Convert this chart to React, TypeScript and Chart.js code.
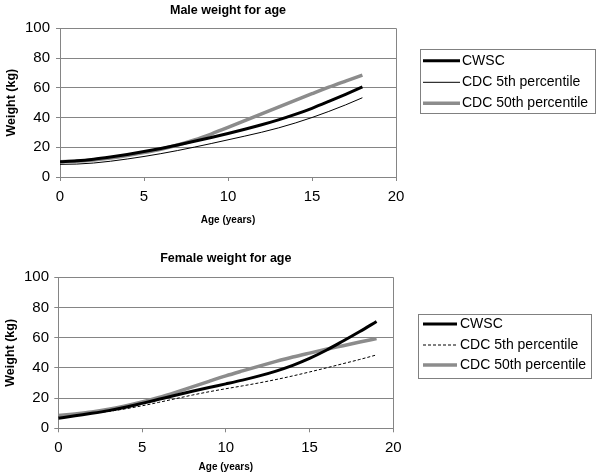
import React, { useEffect, useRef } from "react";
import { Chart, registerables } from "chart.js";

Chart.register(...registerables);

// ---------- data ----------
const maleAges = [0, 1, 2, 3, 4, 5, 6, 7, 8, 9, 10, 11, 12, 13, 14, 15, 16, 17, 18];
const maleCWSC = [10.3, 10.9, 12.0, 13.5, 15.2, 17.1, 19.2, 21.5, 24.0, 26.6, 29.3, 32.1, 35.1, 38.4, 42.1, 46.2, 50.8, 55.6, 60.6];
const maleCDC5 = [8.5, 8.7, 9.4, 10.6, 12.1, 13.8, 15.7, 17.8, 20.1, 22.5, 25.0, 27.5, 30.1, 33.0, 36.3, 40.0, 44.1, 48.5, 53.3];
const maleCDC50 = [10.3, 10.6, 11.4, 12.7, 14.4, 16.4, 18.7, 21.5, 24.9, 28.9, 33.3, 37.9, 42.5, 47.0, 51.5, 56.0, 60.4, 64.5, 68.5];

const femaleAges = [0, 1, 2, 3, 4, 5, 6, 7, 8, 9, 10, 11, 12, 13, 14, 15, 16, 17, 18, 19];
const femaleCWSC = [6.6, 8.3, 9.9, 11.7, 13.9, 16.5, 19.2, 21.9, 24.5, 27.0, 29.4, 31.9, 34.7, 37.9, 41.7, 46.3, 51.7, 57.8, 64.1, 70.7];
const femaleCDC5 = [7.7, 8.8, 9.9, 11.2, 12.9, 14.9, 17.2, 19.6, 22.0, 24.2, 26.2, 28.1, 30.1, 32.3, 34.7, 37.3, 40.0, 42.8, 45.6, 48.6];
const femaleCDC50 = [8.4, 9.5, 10.8, 12.6, 14.8, 17.4, 20.4, 23.8, 27.4, 31.1, 34.7, 38.0, 41.2, 44.3, 47.2, 49.8, 52.3, 54.7, 57.1, 59.4];

const seriesLabels = ["CWSC", "CDC 5th percentile", "CDC 50th percentile"];
const xTicks = [0, 5, 10, 15, 20];
const yTicks = [0, 20, 40, 60, 80, 100];

// ---------- styles ----------
const FONT = "'Liberation Sans', Arial, Helvetica, sans-serif";
const GRID = "#858585";
const SERIES_GRAY = "#8c8c8c";

const boxLegend = {
  id: "boxLegend",
  afterDraw(chart: any, _args: any, opts: any) {
    const ctx = chart.ctx as CanvasRenderingContext2D;
    ctx.save();
    ctx.strokeStyle = opts.borderColor;
    ctx.lineWidth = 1;
    ctx.setLineDash([]);
    ctx.strokeRect(opts.x + 0.5, opts.y + 0.5, opts.w, opts.h);
    chart.data.datasets.forEach((ds: any, i: number) => {
      const y = opts.rowY[i];
      ctx.beginPath();
      ctx.setLineDash(ds.borderDash || []);
      ctx.strokeStyle = ds.borderColor;
      ctx.lineWidth = ds.borderWidth;
      ctx.moveTo(opts.lineX1, y);
      ctx.lineTo(opts.lineX2, y);
      ctx.stroke();
      ctx.setLineDash([]);
      ctx.fillStyle = "#000";
      ctx.font = opts.font;
      ctx.textBaseline = "middle";
      ctx.textAlign = "left";
      ctx.fillText(ds.label, opts.textX, y);
    });
    ctx.restore();
  },
};

function makeData(ages: number[], cwsc: number[], cdc5: number[], cdc50: number[], dashed5: boolean) {
  const pts = (vals: number[]) => ages.map((a, i) => ({ x: a, y: vals[i] }));
  return {
    datasets: [
      {
        label: seriesLabels[0],
        data: pts(cwsc),
        borderColor: "#000000",
        borderWidth: 3,
        pointRadius: 0,
        cubicInterpolationMode: "monotone",
        order: 1,
      },
      {
        label: seriesLabels[1],
        data: pts(cdc5),
        borderColor: "#000000",
        borderWidth: 1,
        borderDash: dashed5 ? [3, 2] : [],
        pointRadius: 0,
        cubicInterpolationMode: "monotone",
        order: 3,
      },
      {
        label: seriesLabels[2],
        data: pts(cdc50),
        borderColor: SERIES_GRAY,
        borderWidth: 3.5,
        pointRadius: 0,
        cubicInterpolationMode: "monotone",
        order: 2,
      },
    ],
  };
}

type Layout = {
  title: string;
  titlePadTop: number;
  titlePadBottom: number;
  padRight: number;
  yWidth: number;
  yTitleOffset: number;
  yTickPad: number;
  xHeight: number;
  xTitlePadBottom: number;
  legend: any;
};

function makeOptions(L: Layout) {
  return {
    animation: false,
    responsive: false,
    maintainAspectRatio: false,
    layout: { padding: { left: 0, right: L.padRight, top: 0, bottom: 0 } },
    plugins: {
      legend: { display: false },
      tooltip: { enabled: false },
      title: {
        display: true,
        text: L.title,
        fullSize: false,
        color: "#000",
        font: { family: FONT, size: 12.5, weight: "bold", lineHeight: 1.2 },
        padding: { top: L.titlePadTop, bottom: L.titlePadBottom },
      },
      boxLegend: L.legend,
    },
    scales: {
      x: {
        type: "linear",
        min: 0,
        max: 20,
        afterBuildTicks: (scale: any) => {
          scale.ticks = xTicks.map((v) => ({ value: v }));
        },
        afterFit: (scale: any) => {
          scale.height = L.xHeight;
        },
        ticks: {
          color: "#000",
          font: { family: FONT, size: 15, lineHeight: 1.2 },
          padding: 7,
          maxRotation: 0,
        },
        grid: {
          color: (c: any) => (c.tick && c.tick.value === 20 ? GRID : "rgba(0,0,0,0)"),
          tickColor: GRID,
          tickLength: 4,
          lineWidth: 1,
        },
        border: { display: true, color: GRID, width: 1 },
        title: {
          display: true,
          text: "Age (years)",
          color: "#000",
          font: { family: FONT, size: 10, weight: "bold", lineHeight: 1.2 },
          padding: { top: 0, bottom: L.xTitlePadBottom },
        },
      },
      y: {
        type: "linear",
        min: 0,
        max: 100,
        afterBuildTicks: (scale: any) => {
          scale.ticks = yTicks.map((v) => ({ value: v }));
        },
        afterFit: (scale: any) => {
          scale.width = L.yWidth;
        },
        ticks: {
          color: "#000",
          font: { family: FONT, size: 15, lineHeight: 1.2 },
          padding: L.yTickPad,
        },
        grid: {
          color: GRID,
          tickColor: GRID,
          tickLength: 4,
          lineWidth: 1,
        },
        border: { display: true, color: GRID, width: 1 },
        title: {
          display: true,
          text: "Weight (kg)",
          color: "#000",
          font: { family: FONT, size: 12.5, weight: "bold", lineHeight: 1.2 },
          padding: { top: L.yTitleOffset - 7.5, bottom: 0 },
        },
      },
    },
  };
}

const topLayout: Layout = {
  title: "Male weight for age",
  titlePadTop: 3.5,
  titlePadBottom: 9.8,
  padRight: 204,
  yWidth: 60,
  yTitleOffset: 12,
  yTickPad: 6,
  xHeight: 60,
  xTitlePadBottom: 11,
  legend: {
    x: 420,
    y: 49,
    w: 175,
    h: 64,
    rowY: [60.7, 82.3, 103.3],
    lineX1: 423,
    lineX2: 460,
    textX: 462,
    borderColor: "#808080",
    font: `14px ${FONT}`,
  },
};

const bottomLayout: Layout = {
  title: "Female weight for age",
  titlePadTop: 14.5,
  titlePadBottom: 10.8,
  padRight: 206.7,
  yWidth: 58.3,
  yTitleOffset: 11,
  yTickPad: 5.3,
  xHeight: 46.7,
  xTitlePadBottom: 1.3,
  legend: {
    x: 418,
    y: 77,
    w: 173,
    h: 64,
    rowY: [87, 108, 128],
    lineX1: 423,
    lineX2: 457,
    textX: 460,
    borderColor: "#808080",
    font: `14px ${FONT}`,
  },
};

function LineChart({ height, layout, data }: { height: number; layout: Layout; data: any }) {
  const ref = useRef<HTMLCanvasElement | null>(null);
  useEffect(() => {
    if (!ref.current) return;
    const chart = new Chart(ref.current, {
      type: "line",
      data,
      options: makeOptions(layout) as any,
      plugins: [boxLegend as any],
    });
    return () => chart.destroy();
  }, []);
  return <canvas ref={ref} width={600} height={height} style={{ display: "block", width: 600, height }} />;
}

export default function App() {
  return (
    <div style={{ position: "fixed", left: 0, top: 0, width: 600, height: 475, background: "#fff" }}>
      <LineChart height={237} layout={topLayout} data={makeData(maleAges, maleCWSC, maleCDC5, maleCDC50, false)} />
      <LineChart height={238} layout={bottomLayout} data={makeData(femaleAges, femaleCWSC, femaleCDC5, femaleCDC50, true)} />
    </div>
  );
}
